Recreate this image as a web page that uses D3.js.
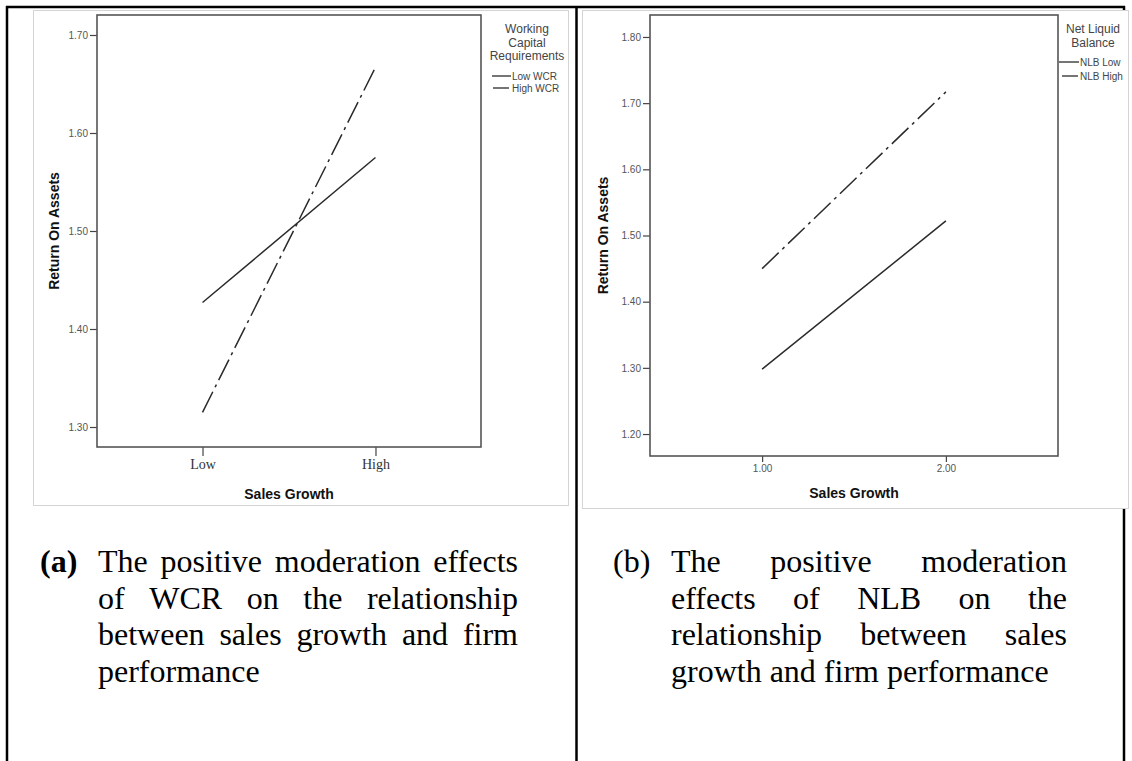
<!DOCTYPE html>
<html>
<head>
<meta charset="utf-8">
<script src="https://cdn.jsdelivr.net/npm/d3@7"></script>
<style>
  body { margin: 0; background: #fff; }
  svg { display: block; }
</style>
</head>
<body>
<svg id="fig" width="1132" height="761"></svg>
<script>
// ---- data ----
const growthLevels = [1, 2];
const wcrTickLabels = ["Low", "High"];
const nlbTickLabels = ["1.00", "2.00"];

const wcrLowRoa = [1.427, 1.575];
const wcrHighRoa = [1.315, 1.667];
const nlbLowRoa = [1.298, 1.522];
const nlbHighRoa = [1.450, 1.717];

const wcrRoaTicks = [1.30, 1.40, 1.50, 1.60, 1.70];
const nlbRoaTicks = [1.20, 1.30, 1.40, 1.50, 1.60, 1.70, 1.80];

const wcrLegendTitle = ["Working", "Capital", "Requirements"];
const nlbLegendTitle = ["Net Liquid", "Balance"];
const wcrSeriesNames = ["Low WCR", "High WCR"];
const nlbSeriesNames = ["NLB Low", "NLB High"];

const captionA = [
  "The positive moderation effects",
  "of WCR on the relationship",
  "between sales growth and firm",
  "performance"
];
const captionB = [
  "The positive moderation",
  "effects of NLB on the",
  "relationship between sales",
  "growth and firm performance"
];

// ---- styles ----
const SANS = "'Liberation Sans', Arial, sans-serif";
const SERIF = "'Liberation Serif', 'Times New Roman', serif";
const DASH_DOT = "23,5,3,5";

const svg = d3.select("#fig");

// table rules around the two cells
const rules = svg.append("g").attr("stroke", "#000").attr("stroke-width", 2.5);
rules.append("line").attr("x1", 6).attr("x2", 1125).attr("y1", 7).attr("y2", 7);
rules.append("line").attr("x1", 7).attr("x2", 7).attr("y1", 6).attr("y2", 761);
rules.append("line").attr("x1", 576.5).attr("x2", 576.5).attr("y1", 6).attr("y2", 761);
rules.append("line").attr("x1", 1124).attr("x2", 1124).attr("y1", 6).attr("y2", 761);

function drawPanel(cfg) {
  const g = svg.append("g");

  // chart canvas
  g.append("rect")
    .attr("x", cfg.box[0] + 0.5).attr("y", cfg.box[1] + 0.5)
    .attr("width", cfg.box[2] - cfg.box[0]).attr("height", cfg.box[3] - cfg.box[1])
    .attr("fill", "#fff").attr("stroke", "#d4d4d4").attr("stroke-width", 1);

  const [fx0, fy0, fx1, fy1] = cfg.frame;
  const x = d3.scaleLinear().domain([0.39, 2.61]).range([fx0, fx1]);
  const y = d3.scaleLinear().domain(cfg.yDomain).range([fy1, fy0]);

  // y axis
  const yAxis = g.append("g")
    .attr("transform", `translate(${fx0},0)`)
    .call(d3.axisLeft(y).tickValues(cfg.yTicks).tickSize(7).tickPadding(2)
      .tickFormat(d3.format(".2f")));
  yAxis.select(".domain").remove();
  yAxis.selectAll(".tick line").attr("stroke", "#444").attr("stroke-width", 1.2);
  yAxis.selectAll(".tick text")
    .attr("font-family", SANS).attr("font-size", 10).attr("fill", "#555");

  // x axis
  const xAxis = g.append("g")
    .attr("transform", `translate(0,${fy1})`)
    .call(d3.axisBottom(x).tickValues(growthLevels).tickSize(cfg.xTickSize).tickPadding(3)
      .tickFormat((d, i) => cfg.xLabels[i]));
  xAxis.select(".domain").remove();
  xAxis.selectAll(".tick line").attr("stroke", "#444").attr("stroke-width", 1.2);
  xAxis.selectAll(".tick text")
    .attr("font-family", cfg.xLabelFont).attr("font-size", cfg.xLabelSize)
    .attr("fill", cfg.xLabelColor);

  // plot frame
  g.append("rect")
    .attr("x", fx0).attr("y", fy0).attr("width", fx1 - fx0).attr("height", fy1 - fy0)
    .attr("fill", "none").attr("stroke", "#555").attr("stroke-width", 1.6);

  // series lines
  const line = d3.line().x((d, i) => x(growthLevels[i])).y(d => y(d));
  cfg.series.forEach(s => {
    g.append("path").datum(s.values)
      .attr("d", line).attr("fill", "none")
      .attr("stroke", "#2a2a2a").attr("stroke-width", 1.5)
      .attr("stroke-dasharray", s.dash);
  });

  // axis titles
  g.append("text")
    .attr("transform", `translate(${cfg.yTitle[0]},${cfg.yTitle[1]}) rotate(-90)`)
    .attr("text-anchor", "middle")
    .attr("font-family", SANS).attr("font-weight", "bold").attr("font-size", 14)
    .attr("fill", "#111").text("Return On Assets");
  g.append("text")
    .attr("x", (fx0 + fx1) / 2).attr("y", cfg.xTitleY)
    .attr("text-anchor", "middle")
    .attr("font-family", SANS).attr("font-weight", "bold").attr("font-size", 14)
    .attr("fill", "#111").text("Sales Growth");

  // legend
  const lg = cfg.legend;
  cfg.legendTitle.forEach((t, i) => {
    g.append("text")
      .attr("x", lg.cx).attr("y", lg.titleY[i])
      .attr("text-anchor", "middle")
      .attr("font-family", SANS).attr("font-size", 12).attr("fill", "#444")
      .text(t);
  });
  cfg.series.forEach((s, i) => {
    g.append("line")
      .attr("x1", lg.lineX[i][0]).attr("x2", lg.lineX[i][1])
      .attr("y1", lg.itemY[i] - 4).attr("y2", lg.itemY[i] - 4)
      .attr("stroke", "#2a2a2a").attr("stroke-width", 1.3)
      .attr("stroke-dasharray", s.dash);
    g.append("text")
      .attr("x", lg.textX).attr("y", lg.itemY[i])
      .attr("font-family", SANS).attr("font-size", 10).attr("fill", "#444")
      .text(s.name);
  });
}

drawPanel({
  box: [33, 10, 568, 505],
  frame: [97, 15, 481, 447],
  yDomain: [1.2796, 1.7204],
  yTicks: wcrRoaTicks,
  xLabels: wcrTickLabels,
  xTickSize: 9,
  xLabelFont: SERIF, xLabelSize: 14, xLabelColor: "#333",
  series: [
    { name: wcrSeriesNames[0], values: wcrLowRoa, dash: null },
    { name: wcrSeriesNames[1], values: wcrHighRoa, dash: DASH_DOT }
  ],
  yTitle: [59, 231],
  xTitleY: 499,
  legendTitle: wcrLegendTitle,
  legend: { cx: 527, titleY: [33, 46.5, 60], itemY: [80, 92], lineX: [[492, 511], [493, 509]], textX: 512 }
});

drawPanel({
  box: [582, 10, 1128, 508],
  frame: [650, 15, 1058, 456],
  yDomain: [1.1668, 1.8332],
  yTicks: nlbRoaTicks,
  xLabels: nlbTickLabels,
  xTickSize: 6,
  xLabelFont: SANS, xLabelSize: 10, xLabelColor: "#555",
  series: [
    { name: nlbSeriesNames[0], values: nlbLowRoa, dash: null },
    { name: nlbSeriesNames[1], values: nlbHighRoa, dash: DASH_DOT }
  ],
  yTitle: [608, 235.5],
  xTitleY: 498,
  legendTitle: nlbLegendTitle,
  legend: { cx: 1093, titleY: [33, 47], itemY: [66, 80], lineX: [[1059, 1079], [1062, 1078]], textX: 1080 }
});

// justified caption lines: words spread between left and right edges
function drawCaption(label, labelBold, labelX, left, right, lines, baselines) {
  const g = svg.append("g")
    .attr("font-family", SERIF).attr("font-size", 32).attr("fill", "#000");
  g.append("text")
    .attr("x", labelX).attr("y", baselines[0])
    .attr("font-weight", labelBold ? "bold" : "normal")
    .text(label);
  lines.forEach((ln, li) => {
    const words = ln.split(" ");
    const justify = li < lines.length - 1;
    const nodes = words.map(w => g.append("text").attr("y", baselines[li]).text(w));
    const widths = nodes.map(n => n.node().getComputedTextLength());
    const total = d3.sum(widths);
    const gap = justify && words.length > 1
      ? (right - left - total) / (words.length - 1)
      : 8;
    let cx = left;
    nodes.forEach((n, i) => { n.attr("x", cx); cx += widths[i] + gap; });
  });
}

const captionBaselines = [572, 608.5, 645, 681.5];
drawCaption("(a)", true, 40, 98, 518, captionA, captionBaselines);
drawCaption("(b)", false, 613, 671, 1067, captionB, captionBaselines);
</script>
</body>
</html>
